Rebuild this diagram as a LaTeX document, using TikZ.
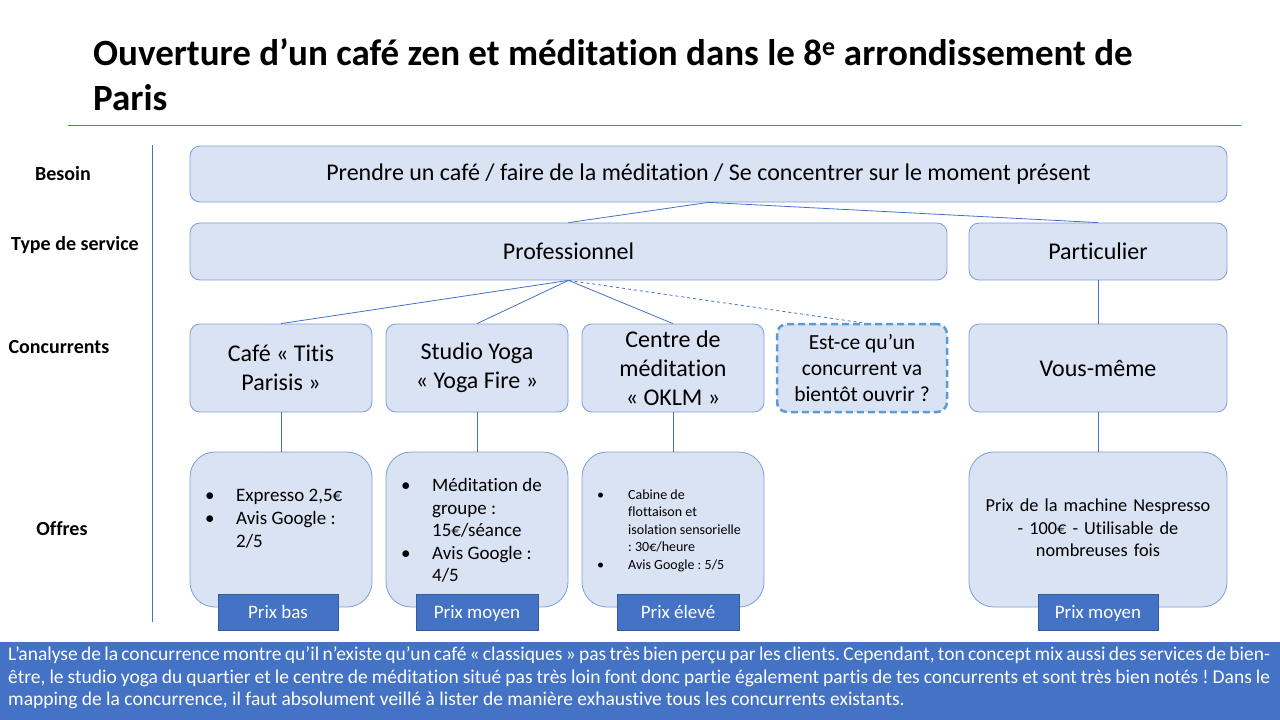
\documentclass[tikz,border=0pt]{standalone}
\usepackage{fontspec}
\setmainfont{Carlito}[Ligatures=NoCommon]
\frenchspacing
\definecolor{boxfill}{HTML}{DAE3F3}
\definecolor{boxline}{HTML}{7A9FD6}
\definecolor{accent}{HTML}{4472C4}
\definecolor{dashline}{HTML}{5B9BD5}
\definecolor{rulecol}{HTML}{4F7BA8}
\tikzset{
  box/.style={draw=boxline, fill=boxfill, rounded corners=10pt, line width=0.8pt, align=center, font=\fontsize{24}{29}\selectfont},
  offbox/.style={draw=boxline, fill=boxfill, rounded corners=25pt, line width=0.8pt, minimum width=182pt, minimum height=155pt},
  prix/.style={draw=accent!80!black, fill=accent, text=white, minimum height=36pt, text height=15pt, text depth=2pt, font=\fontsize{19}{22}\selectfont, inner sep=0pt},
  conn/.style={draw=accent, line width=0.8pt},
  lbl/.style={font=\fontsize{20}{24}\selectfont\bfseries, anchor=base},
  bullets/.style={anchor=north west, inner sep=0pt},
}
\begin{document}
\begin{tikzpicture}[x=1pt,y=-1pt]
\useasboundingbox (0,0) rectangle (1280,720);
% title
\node[anchor=base west, inner sep=0pt, font=\fontsize{37}{44}\selectfont\bfseries] (t1) at (93,65) {Ouverture d’un café zen et méditation dans le 8\textsuperscript{e} arrondissement de};
\node[anchor=base west, inner sep=0pt, font=\fontsize{37}{44}\selectfont\bfseries] (t2) at (93,110) {Paris};
\draw[rulecol, line width=0.8pt] (68,125) -- (1241,125);
\draw[accent, line width=0.8pt] (152,145) -- (152,622);
% left labels
\node[lbl] (lb1) at (63,180) {Besoin};
\node[lbl] (lb2) at (75,250) {Type de service};
\node[lbl] (lb3) at (59,353) {Concurrents};
\node[lbl] (lb4) at (62,535) {Offres};
% row 1
\node[box, minimum width=1037pt, minimum height=56pt] (bes) at (708.5,174) {Prendre un café / faire de la méditation / Se concentrer sur le moment présent};
% row 2
\node[box, minimum width=757pt, minimum height=57pt] (pro) at (568.5,251.5) {Professionnel};
\node[box, minimum width=258pt, minimum height=57pt] (par) at (1098,251.5) {Particulier};
% row 3
\node[box, minimum width=182pt, minimum height=88pt] (c1) at (281,368) {Café « Titis\\Parisis »};
\node[box, minimum width=182pt, minimum height=88pt] (c2) at (477,368) {Studio Yoga\\« Yoga Fire »};
\node[box, minimum width=182pt, minimum height=88pt] (c3) at (673,368) {Centre de\\méditation\\« OKLM »};
\node[box, draw=dashline, line width=2.5pt, dash pattern=on 7pt off 4pt, minimum width=170pt, minimum height=88pt, font=\fontsize{21.5}{26}\selectfont] (c4) at (862,368) {Est-ce qu’un\\concurrent va\\bientôt ouvrir ?};
\node[box, minimum width=258pt, minimum height=88pt] (c5) at (1098,368) {Vous-même};
% row 4
\node[offbox] (o1) at (281,529.5) {};
\node[offbox] (o2) at (477,529.5) {};
\node[offbox] (o3) at (673,529.5) {};
\node[offbox, minimum width=258pt] (o5) at (1098,529.5) {};
\node[bullets, font=\fontsize{19}{23}\selectfont] (o1t) at (205,485) {\begin{tabular}{@{}p{31pt}@{}l@{}}
•&Expresso 2,5€\\
•&Avis Google :\\
&2/5
\end{tabular}};
\node[bullets, font=\fontsize{19}{22.5}\selectfont] (o2t) at (401,476) {\begin{tabular}{@{}p{31pt}@{}l@{}}
•&Méditation de\\
&groupe :\\
&15€/séance\\
•&Avis Google :\\
&4/5
\end{tabular}};
\node[bullets, font=\fontsize{14}{17.5}\selectfont] (o3t) at (597,487) {\begin{tabular}{@{}p{31pt}@{}l@{}}
•&Cabine de\\
&flottaison et\\
&isolation sensorielle\\
&: 30€/heure\\
•&Avis Google : 5/5
\end{tabular}};
\node[align=center, text width=250pt, inner sep=0pt, font=\fontsize{18.3}{22.5}\selectfont] (o5t) at (1098,528) {Prix de la machine Nespresso\\- 100€ - Utilisable de\\nombreuses fois};
% prix
\node[prix, minimum width=120pt] (p1) at (278,612) {Prix bas};
\node[prix, minimum width=122pt] (p2) at (477,612) {Prix moyen};
\node[prix, minimum width=122pt] (p3) at (678,612) {Prix élevé};
\node[prix, minimum width=120pt] (p5) at (1098,612) {Prix moyen};
% connectors
\draw[conn] (bes.south) -- (pro.north);
\draw[conn] (bes.south) -- (par.north);
\draw[conn] (pro.south) -- (c1.north);
\draw[conn] (pro.south) -- (c2.north);
\draw[conn] (pro.south) -- (c3.north);
\draw[conn, dashed] (pro.south) -- (c4.north);
\draw[conn] (par.south) -- (c5.north);
\draw[conn] (c1.south) -- (o1.north);
\draw[conn] (c2.south) -- (o2.north);
\draw[conn] (c3.south) -- (o3.north);
\draw[conn] (c5.south) -- (o5.north);
% footer
\fill[accent] (0,642) rectangle (1280,720);
\node[anchor=north west, inner sep=0pt, text width=1262pt, align=justify, text=white, font=\fontsize{19.5}{22.5}\selectfont] (foot) at (8,647) {L’analyse de la concurrence montre qu’il n’existe qu’un café « classiques » pas très bien perçu par les clients. Cependant, ton concept mix aussi des services de bien-\linebreak être, le studio yoga du quartier et le centre de méditation situé pas très loin font donc partie également partis de tes concurrents et sont très bien notés ! Dans le\linebreak mapping de la concurrence, il faut absolument veillé à lister de manière exhaustive tous les concurrents existants.};
\end{tikzpicture}
\end{document}
